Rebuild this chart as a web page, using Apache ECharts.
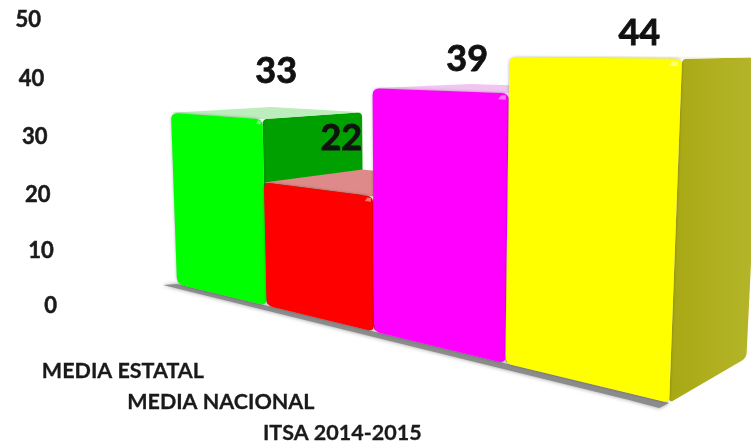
<!DOCTYPE html>
<html>
<head>
<meta charset="utf-8">
<style>
  html, body { margin: 0; padding: 0; background: #fff; }
  #chart { width: 751px; height: 445px; }
</style>
</head>
<body>
<div id="chart"></div>
<script src="https://cdn.jsdelivr.net/npm/echarts@6/dist/echarts.min.js"></script>
<script>
const categories = ['MEDIA ESTATAL', 'MEDIA NACIONAL', 'ITSA 2014-2015', '']
const values = [33, 22, 39, 44]
const tickLabels = [0, 10, 20, 30, 40, 50]

const frontColors = ['#00ff00', '#ff0000', '#ff00ff', '#ffff00']
const sideColors = ['#00a000', '#a80000', '#a800a8', '#adad1c']
const topColors = ['#bdecbd', '#de8a8a', '#f0c6f0', '#f6f6e0']
// px nudges, the original labels do not sit on a clean 3d position
const valueNudge = [[9, -41], [-26, -43], [-20, -29], [3, -24]]
const categoryNudge = [[-97, 77], [-97, 84], [-94, 86], [0, 0]]
const tickNudge = [1, 3, 4, 3, 2, 0]

const FONT = 'Lato'
const AXIS_MAX = 50
const LABEL_SLANT = 0.32

// camera fitted to the picture: u = category position, v = value, d = depth
function project (u, v, d) {
  const x = 177 + 67.5 * u - 0.308 * v + 124 * d
  const y = 284 - 3.7 * u - 5.27 * v + 4.7 * d
  const w = 1 - 0.083 * u - 0.000738 * v + 0.097 * d
  return [x / w, y / w]
}

// read u and v back from the axes
function plane (params, api, index, value) {
  const cs = params.coordSys
  const band = api.size([1, 0])[0]
  const p = api.coord([index, value])
  return {
    u: (p[0] - cs.x) / band - 0.5,
    v: (cs.y + cs.height - p[1]) / cs.height * AXIS_MAX
  }
}

function roundedPath (pts, r) {
  const n = pts.length
  let d = ''
  for (let i = 0; i < n; i++) {
    const p = pts[i]
    const a = pts[(i + n - 1) % n]
    const b = pts[(i + 1) % n]
    const la = Math.hypot(a[0] - p[0], a[1] - p[1])
    const lb = Math.hypot(b[0] - p[0], b[1] - p[1])
    const ra = Math.min(r, la / 2) / la
    const rb = Math.min(r, lb / 2) / lb
    const s = [p[0] + (a[0] - p[0]) * ra, p[1] + (a[1] - p[1]) * ra]
    const e = [p[0] + (b[0] - p[0]) * rb, p[1] + (b[1] - p[1]) * rb]
    d += (i === 0 ? 'M' : 'L') + s[0] + ' ' + s[1] + 'Q' + p[0] + ' ' + p[1] + ' ' + e[0] + ' ' + e[1]
  }
  return d + 'Z'
}

function renderBar (params, api) {
  const i = api.value(0)
  const q = plane(params, api, i, api.value(1))
  const u0 = q.u
  const u1 = q.u + 1
  const v = q.v
  const sideGrad = i === 3
    ? new echarts.graphic.LinearGradient(0, 0, 1, 0, [{ offset: 0, color: '#a8a814' }, { offset: 1, color: '#b6b62c' }])
    : sideColors[i]
  return {
    type: 'group',
    children: [
      {
        type: 'path',
        shape: { pathData: roundedPath([project(u1, 0, 0), project(u1, v, 0), project(u1, v, 1), project(u1, 0, 1)], 5) },
        style: { fill: sideGrad }
      },
      {
        type: 'polygon',
        shape: { points: [project(u0, v, 0), project(u0, v, 1), project(u1, v, 1), project(u1, v, 0)] },
        style: { fill: topColors[i] }
      },
      {
        type: 'path',
        shape: { pathData: roundedPath([project(u0, 0, 0), project(u0, v, 0), project(u1, v, 0), project(u1, 0, 0)], 7) },
        style: { fill: frontColors[i], shadowBlur: 3, shadowColor: 'rgba(0,0,0,0.3)' }
      },
      {
        // small glint on the bevelled corner
        type: 'polygon',
        shape: { points: [project(u1 - 0.07, v - 0.9, 0), project(u1 - 0.02, v - 0.9, 0), project(u1 - 0.02, v - 0.3, 0), project(u1 - 0.05, v - 0.3, 0)] },
        style: { fill: 'rgba(255,255,255,0.45)' }
      }
    ]
  }
}

// grey wedge the bars stand on
function renderFloor (params, api) {
  const a = project(0, 0, 0)
  const b = project(4, 0, 0)
  return {
    type: 'polygon',
    shape: { points: [[a[0] - 14, a[1] + 1], a, b, [b[0] - 10, b[1] + 5], [b[0] - 40, b[1] - 3]] },
    style: { fill: '#8c8c8c', shadowBlur: 4, shadowColor: 'rgba(0,0,0,0.4)' }
  }
}

function renderValueLabel (params, api) {
  const i = api.value(0)
  const q = plane(params, api, i, api.value(1))
  const p = project(q.u + 0.5, q.v, 0.5)
  return {
    type: 'text',
    style: {
      x: p[0] + valueNudge[i][0],
      y: p[1] + valueNudge[i][1],
      text: String(api.value(1)),
      fill: '#111',
      stroke: '#111',
      lineWidth: 0.8,
      font: 'bold 36px ' + FONT,
      align: 'center',
      verticalAlign: 'middle'
    }
  }
}

function renderCategoryLabel (params, api) {
  const i = api.value(0)
  const q = plane(params, api, i, 0)
  const p = project(q.u + 0.5, 0, 0)
  return {
    type: 'text',
    style: {
      x: p[0] + categoryNudge[i][0],
      y: p[1] + categoryNudge[i][1],
      text: categories[i],
      fill: '#1a1a1a',
      stroke: '#1a1a1a',
      lineWidth: 0.3,
      font: 'bold 21.5px ' + FONT,
      align: 'center',
      verticalAlign: 'middle'
    }
  }
}

// the tick labels lean with the wall, one rich style per tick
const tickRich = {}
tickLabels.forEach((t, i) => {
  tickRich['t' + t] = {
    fontFamily: FONT,
    fontWeight: 'bold',
    fontSize: 22,
    color: '#1a1a1a',
    textBorderColor: '#1a1a1a',
    textBorderWidth: 0.5,
    padding: [tickNudge[i] * 2, t * LABEL_SLANT, 0, 0]
  }
})

const barData = values.map((v, i) => [i, v])

const chart = echarts.init(document.getElementById('chart'))
chart.setOption({
  animation: false,
  backgroundColor: '#fff',
  grid: { left: 57, top: 20, width: 400, height: 285, containLabel: false },
  xAxis: { type: 'category', data: categories, show: false },
  yAxis: {
    type: 'value',
    min: 0,
    max: AXIS_MAX,
    interval: 10,
    axisLine: { show: false },
    axisTick: { show: false },
    splitLine: { show: false },
    axisLabel: {
      margin: 0,
      formatter: v => '{t' + v + '|' + v + '}',
      rich: tickRich
    }
  },
  series: [
    { type: 'custom', name: 'floor', renderItem: renderFloor, data: [[0, 0]], z: 1, silent: true },
    { type: 'custom', name: 'bars', renderItem: renderBar, data: barData, z: 2 },
    { type: 'custom', name: 'values', renderItem: renderValueLabel, data: barData, z: 3, silent: true },
    { type: 'custom', name: 'categories', renderItem: renderCategoryLabel, data: barData, z: 3, silent: true }
  ]
})
</script>
</body>
</html>
